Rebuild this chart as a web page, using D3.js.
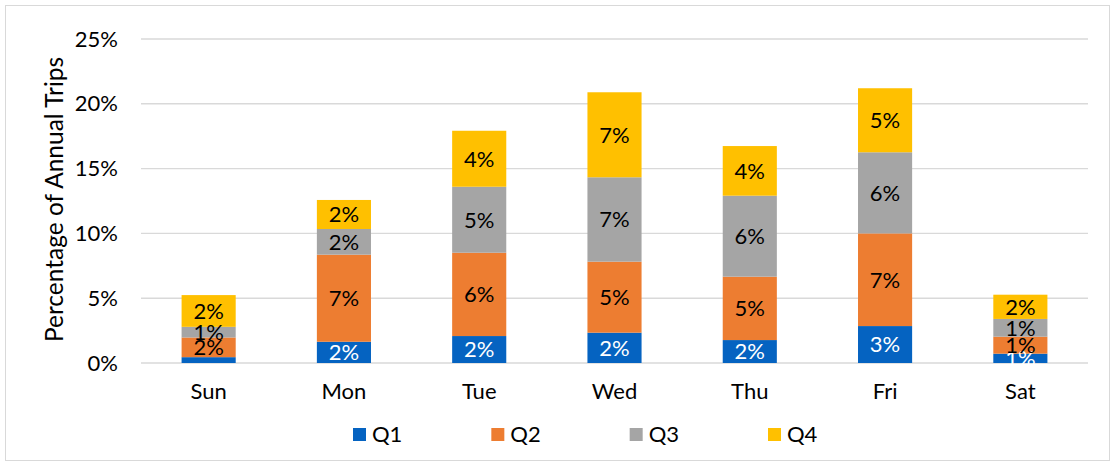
<!DOCTYPE html>
<html>
<head>
<meta charset="utf-8">
<script src="https://cdn.jsdelivr.net/npm/d3@7"></script>
<style>
  html, body { margin: 0; padding: 0; background: #fff; }
  svg { display: block; }
  text { font-family: Lato, "Open Sans", sans-serif; fill: #000; }
</style>
</head>
<body>
<svg id="chart" width="1110" height="463"></svg>
<script>
const categories = ["Sun", "Mon", "Tue", "Wed", "Thu", "Fri", "Sat"];
const seriesNames = ["Q1", "Q2", "Q3", "Q4"];
const q1 = [0.45, 1.64, 2.08, 2.34, 1.77, 2.85, 0.72];
const q2 = [1.52, 6.72, 6.43, 5.48, 4.89, 7.15, 1.31];
const q3 = [0.82, 1.98, 5.09, 6.51, 6.25, 6.26, 1.37];
const q4 = [2.45, 2.24, 4.32, 6.56, 3.83, 4.94, 1.87];
const yTicks = [0, 5, 10, 15, 20, 25];
const colors = ["#0563C1", "#ED7D31", "#A5A5A5", "#FFC000"];
const labelColors = ["#fff", "#000", "#000", "#000"];

const seriesValues = [q1, q2, q3, q4];
const rows = categories.map((c, i) => {
  const r = { cat: c };
  seriesNames.forEach((s, j) => r[s] = seriesValues[j][i]);
  return r;
});

const svg = d3.select("#chart");
const W = 1110, H = 463;
const plot = { left: 141, right: 1088, top: 39, bottom: 363 };
const FS = 22;

// outer border
svg.append("rect").attr("x", 5.5).attr("y", 5.5).attr("width", W - 6).attr("height", H - 8)
  .attr("fill", "#fff").attr("stroke", "#d9d9d9").attr("stroke-width", 1);

const x = d3.scaleBand().domain(categories).range([plot.left, plot.right])
  .paddingInner(0.6).paddingOuter(0.3);
const y = d3.scaleLinear().domain([0, 25]).range([plot.bottom, plot.top]);

// gridlines
svg.append("g").selectAll("line").data(yTicks).join("line")
  .attr("x1", plot.left).attr("x2", plot.right)
  .attr("y1", d => y(d)).attr("y2", d => y(d))
  .attr("stroke", "#d9d9d9").attr("stroke-width", 1.4);

// y axis labels
const yAxis = d3.axisLeft(y).tickValues(yTicks).tickFormat(d => d + "%").tickSize(0).tickPadding(23);
const gy = svg.append("g").attr("transform", `translate(${plot.left},0)`).call(yAxis);
gy.select(".domain").remove();
gy.selectAll("text").style("font-size", FS + "px").style("font-family", "Lato, sans-serif").attr("fill", "#000");

// x axis labels
const xAxis = d3.axisBottom(x).tickSize(0).tickPadding(20);
const gx = svg.append("g").attr("transform", `translate(0,${plot.bottom})`).call(xAxis);
gx.select(".domain").remove();
gx.selectAll("text").style("font-size", FS + "px").style("font-family", "Lato, sans-serif").attr("fill", "#000");

// stacked bars
const stack = d3.stack().keys(seriesNames)(rows);
const layers = svg.append("g").selectAll("g").data(stack).join("g")
  .attr("fill", (d, i) => colors[i]);
layers.selectAll("rect").data(d => d).join("rect")
  .attr("x", d => x(d.data.cat))
  .attr("width", x.bandwidth())
  .attr("y", d => y(d[1]))
  .attr("height", d => y(d[0]) - y(d[1]));

// data labels
const lbl = svg.append("g");
stack.forEach((layer, i) => {
  layer.forEach(d => {
    const v = d[1] - d[0];
    if (v < 0.5) return;
    lbl.append("text")
      .attr("x", x(d.data.cat) + x.bandwidth() / 2)
      .attr("y", (y(d[0]) + y(d[1])) / 2)
      .attr("dy", "0.36em")
      .attr("text-anchor", "middle")
      .style("font-size", FS + "px")
      .style("fill", labelColors[i])
      .text(Math.round(v) + "%");
  });
});

// y axis title
svg.append("text")
  .attr("transform", `translate(63,${(56 + 343) / 2}) rotate(-90)`)
  .attr("text-anchor", "middle")
  .style("font-size", "24.5px")
  .text("Percentage of Annual Trips");

// legend
const legX = d3.scalePoint().domain(seriesNames).range([353, 768]);
const leg = svg.append("g").selectAll("g").data(seriesNames).join("g")
  .attr("transform", d => `translate(${legX(d)},428)`);
leg.append("rect").attr("width", 13).attr("height", 13).attr("fill", (d, i) => colors[i]);
leg.append("text").attr("x", 19).attr("y", 14).style("font-size", FS + "px").text(d => d);
</script>
</body>
</html>
